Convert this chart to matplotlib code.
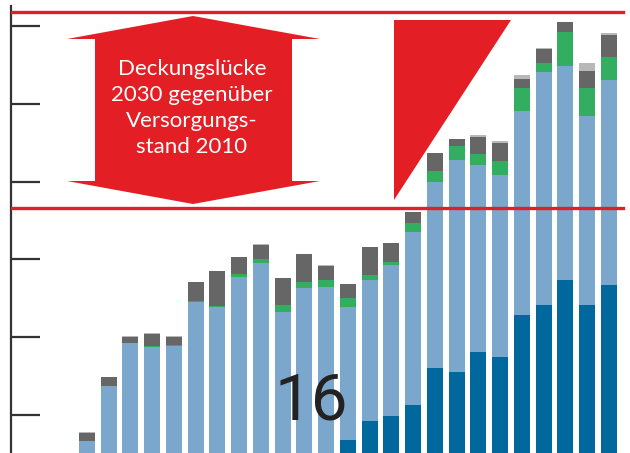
import matplotlib.pyplot as plt
from matplotlib.patches import Polygon
import numpy as np

# stacked segments per bar (bottom -> top), image is cropped at the bottom
dark_blue = [0, 0, 0, 0, 0, 0, 0, 0, 0, 0, 0, 0,
             6.8, 9.2, 9.9, 11.3, 16.0, 15.6, 18.1, 17.4, 22.8, 24.2, 27.4, 24.1, 26.7]
light_blue = [6.7, 13.7, 19.2, 18.7, 18.85, 24.5, 23.85, 27.7, 29.5, 23.2, 26.3, 26.4,
              17.05, 18.2, 19.35, 22.2, 24.0, 27.2, 24.0, 23.5, 26.3, 29.9, 27.45, 24.35, 26.4]
green = [0, 0, 0, 0.15, 0.12, 0.13, 0.12, 0.4, 0.5, 1.0, 0.77, 0.9,
         1.15, 0.65, 0.4, 1.15, 1.4, 1.8, 1.4, 1.8, 2.95, 1.15, 4.35, 3.6, 2.95]
dark_gray = [1.0, 1.15, 0.77, 1.55, 1.05, 2.45, 4.5, 2.2, 1.9, 3.45, 3.6, 1.8,
             1.9, 3.6, 2.45, 1.4, 2.3, 0.9, 2.2, 2.3, 1.15, 1.8, 1.3, 2.2, 2.8]
light_gray = [0.15, 0, 0.15, 0.15, 0.15, 0, 0, 0, 0.13, 0, 0, 0.13,
              0, 0, 0, 0, 0, 0, 0.26, 0.26, 0.5, 0.13, 0, 1.0, 0.25]

colors = ['#00689d', '#7ba7cd', '#33ae60', '#666666', '#b8b8b8']
series = [dark_blue, light_blue, green, dark_gray, light_gray]

gap_levels = [61.8, 36.55]  # 2030 level / 2010 level
W, H = 630, 453

fig = plt.figure(figsize=(6.3, 4.53), dpi=100)
ax = fig.add_axes([11 / W, 0, 1 - 11 / W, (H - 6) / H])

x = np.arange(len(dark_blue))
bottom = np.zeros(len(x))
for vals, c in zip(series, colors):
    ax.bar(x, vals, bottom=bottom, width=0.736, color=c, zorder=2)
    bottom += np.array(vals)

for lvl in gap_levels:
    ax.axhline(lvl, xmin=0, xmax=0.989, color='#e31e24', lw=2.4, zorder=5)

ax.set_xlim(-3.494, 24.966)
ax.set_ylim(5.13, 62.56)
ax.set_yticks([10, 20, 30, 40, 50, 60])
ax.set_yticklabels([])
ax.set_xticks([])
ax.tick_params(axis='y', direction='in', length=21, width=1.6, color='#333333')
for s in ['top', 'right', 'bottom']:
    ax.spines[s].set_visible(False)
ax.spines['left'].set_linewidth(1.6)
ax.spines['left'].set_color('#333333')


def px(pts):
    # pixel coords (y down) -> figure fraction
    return [(a / W, 1 - b / H) for a, b in pts]


arrow = [(193, 16), (320, 39), (292, 39), (292, 181), (320, 181),
         (193, 204), (67, 181), (95, 181), (95, 39), (67, 39)]
fig.patches.append(Polygon(px(arrow), closed=True, facecolor='#e31e24',
                           edgecolor='none', transform=fig.transFigure))
tri = [(394, 20), (511, 20), (394, 200)]
fig.patches.append(Polygon(px(tri), closed=True, facecolor='#e31e24',
                           edgecolor='none', transform=fig.transFigure))

fig.text(192 / W, 1 - 108 / H, 'Deckungslücke\n2030 gegenüber\nVersorgungs-\nstand 2010',
         ha='center', va='center', color='white', fontsize=16, family='Lato',
         linespacing=1.36)
fig.text(311 / W, 1 - 401 / H, '16', ha='center', va='center', color='#222222',
         fontsize=47, family='Roboto')

fig.savefig('out.png', dpi=100)
